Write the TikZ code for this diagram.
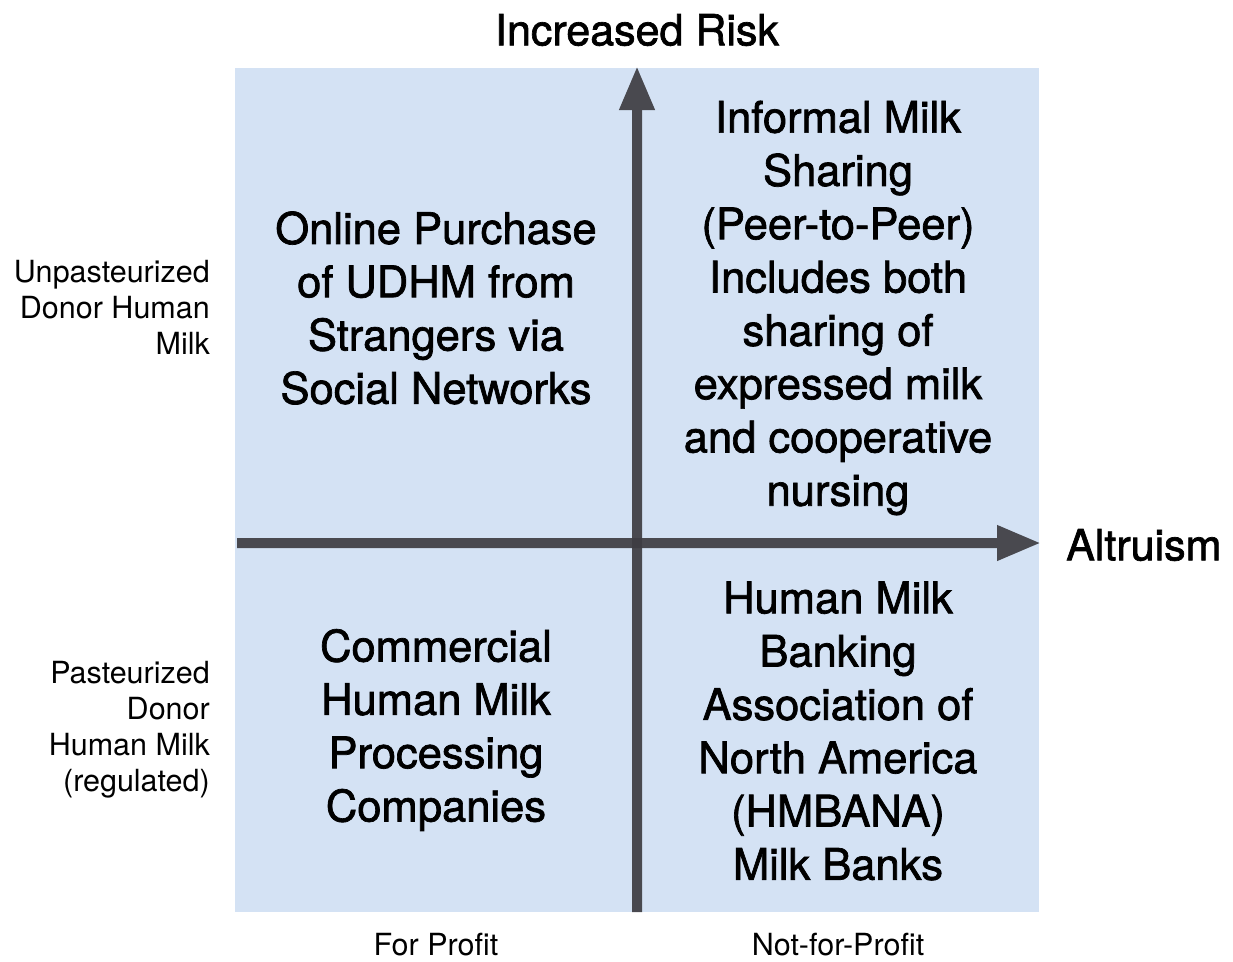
\documentclass[tikz,border=0pt]{standalone}
\usepackage{fontspec}
\setmainfont{TeX Gyre Heros}
\newfontfamily\medfont[RawFeature={embolden=1.6}]{TeX Gyre Heros}
\usetikzlibrary{arrows.meta}
\definecolor{quadblue}{HTML}{D4E2F4}
\definecolor{axisgray}{HTML}{3E3D42}
\begin{document}
\begin{tikzpicture}[x=1pt,y=-1pt,
  quad/.style={align=center,font=\medfont\fontsize{43.5}{53.3}\selectfont,inner sep=0pt,text=black},
  side/.style={align=right,font=\fontsize{30.5}{36}\selectfont,inner sep=0pt,anchor=east,text=black},
  axlabel/.style={font=\medfont\fontsize{43}{50}\selectfont,inner sep=0pt,text=black},
  bottomlbl/.style={font=\fontsize{30.5}{36}\selectfont,inner sep=0pt,text=black},
  axisline/.style={draw=axisgray,line width=10pt,-{Triangle[length=44pt,width=33pt]}}]
\useasboundingbox (0,0) rectangle (1233,961);
\fill[quadblue] (235,68) rectangle (1039,912);
\coordinate (vbot) at (637,912);
\coordinate (vtop) at (637,66);
\coordinate (hleft) at (237,543);
\coordinate (hright) at (1041,543);
\begin{scope}[transparency group,opacity=0.92]
\draw[axisline] (vbot) -- (vtop);
\end{scope}
\begin{scope}[transparency group,opacity=0.92]
\draw[axisline] (hleft) -- (hright);
\end{scope}
\node[axlabel] (risk) at (637,30) {Increased Risk};
\node[axlabel,anchor=west] (alt) at (1066,545) {Altruism};
\node[quad] (tl) at (436,308) {Online Purchase\\of UDHM from\\Strangers via\\Social Networks};
\node[quad] (tr) at (838,308) {Informal Milk\\Sharing\\(Peer-to-Peer)\\Includes both\\sharing of\\expressed milk\\and cooperative\\nursing};
\node[quad] (bl) at (436,730) {Commercial\\Human Milk\\Processing\\Companies};
\node[quad] (br) at (838,731) {Human Milk\\Banking\\Association of\\North America\\(HMBANA)\\Milk Banks};
\node[side] (unp) at (210,307) {Unpasteurized\\Donor Human\\Milk};
\node[side] (pas) at (210,730) {Pasteurized\\Donor\\Human Milk\\(regulated)};
\node[bottomlbl] (fp) at (436,945) {For Profit};
\node[bottomlbl] (nfp) at (838,945) {Not-for-Profit};
\end{tikzpicture}
\end{document}
